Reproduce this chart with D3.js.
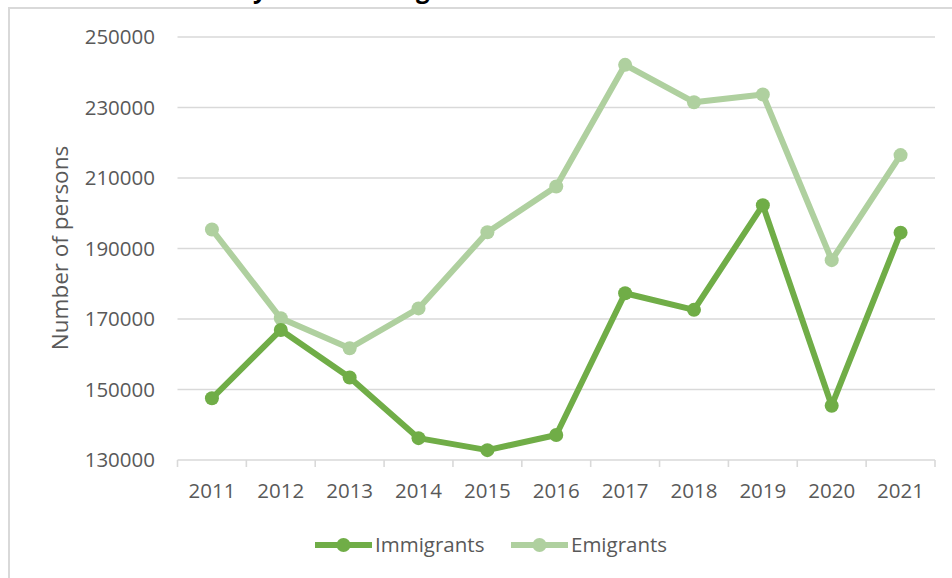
<!DOCTYPE html>
<html>
<head>
<meta charset="utf-8">
<script src="https://cdn.jsdelivr.net/npm/d3@7"></script>
<style>
  html, body { margin: 0; padding: 0; background: #fff; }
  svg { display: block; }
  text { font-family: "Open Sans", "Liberation Sans", sans-serif; }
</style>
</head>
<body>
<svg id="chart" width="952" height="578"></svg>
<script>
// Yearly migration flows
const years = ["2011", "2012", "2013", "2014", "2015", "2016", "2017", "2018", "2019", "2020", "2021"];
const immigrants = [147500, 166900, 153400, 136200, 132800, 137100, 177300, 172600, 202300, 145400, 194500];
const emigrants  = [195400, 170200, 161700, 173000, 194600, 207600, 242100, 231500, 233700, 186700, 216500];
const yTicks = [130000, 150000, 170000, 190000, 210000, 230000, 250000];
const seriesNames = ["Immigrants", "Emigrants"];
const chartTitle = "Annual Flows by Year and Region";
const yTitle = "Number of persons";

const colors = { Immigrants: "#70ad47", Emigrants: "#afd09f" };
const textColor = "#595959";
const gridColor = "#d9d9d9";

const svg = d3.select("#chart");

// outer chart frame
svg.append("rect")
  .attr("x", 9).attr("y", 8)
  .attr("width", 1000).attr("height", 620)
  .attr("fill", "#fff")
  .attr("stroke", gridColor).attr("stroke-width", 2);

// chart title, sitting above the frame
const title = svg.append("text")
  .attr("font-weight", "bold")
  .attr("font-size", 24)
  .attr("fill", "#000")
  .attr("y", 0)
  .text(chartTitle);
(function placeTitle() {
  const node = title.node();
  const iy = chartTitle.indexOf("y");
  const ig = chartTitle.lastIndexOf("g");
  const gap = node.getSubStringLength(0, ig) - node.getSubStringLength(0, iy);
  const size = 24 * 163 / gap;
  title.attr("font-size", size);
  const off = node.getSubStringLength(0, iy);
  title.attr("x", 253 - off).attr("y", -2);
})();

const x = d3.scaleBand().domain(years).range([177.5, 935]);
const y = d3.scaleLinear().domain([130000, 250000]).range([460, 37]);
const cx = d => x(d) + x.bandwidth() / 2;

// horizontal gridlines
svg.append("g")
  .selectAll("line")
  .data(yTicks.filter(v => v !== 130000))
  .join("line")
  .attr("x1", 177.5).attr("x2", 935)
  .attr("y1", d => y(d)).attr("y2", d => y(d))
  .attr("stroke", gridColor).attr("stroke-width", 1.6);

// y tick labels
svg.append("g")
  .selectAll("text")
  .data(yTicks)
  .join("text")
  .attr("x", 155)
  .attr("y", d => y(d))
  .attr("dy", "0.36em")
  .attr("text-anchor", "end")
  .attr("font-size", 20.5)
  .attr("fill", textColor)
  .text(d3.format("d"));

// x axis line with category tick marks
const xAxis = svg.append("g");
xAxis.append("line")
  .attr("x1", 177.5).attr("x2", 935)
  .attr("y1", y(130000)).attr("y2", y(130000))
  .attr("stroke", gridColor).attr("stroke-width", 1.6);
xAxis.selectAll("line.tick")
  .data(years.map(d => x(d)).concat([x.range()[1]]))
  .join("line")
  .attr("class", "tick")
  .attr("x1", d => d).attr("x2", d => d)
  .attr("y1", y(130000)).attr("y2", y(130000) + 7)
  .attr("stroke", gridColor).attr("stroke-width", 1.6);
xAxis.selectAll("text")
  .data(years)
  .join("text")
  .attr("x", d => cx(d))
  .attr("y", 491)
  .attr("dy", "0.36em")
  .attr("text-anchor", "middle")
  .attr("font-size", 20.5)
  .attr("fill", textColor)
  .text(d => d);

// y axis title
svg.append("text")
  .attr("transform", "translate(60,248) rotate(-90)")
  .attr("dy", "0.36em")
  .attr("text-anchor", "middle")
  .attr("font-size", 22.5)
  .attr("fill", textColor)
  .text(yTitle);

// series lines and markers
const series = [
  { name: "Emigrants", values: emigrants },
  { name: "Immigrants", values: immigrants }
];
const line = d3.line().x((d, i) => cx(years[i])).y(d => y(d));

series.forEach(s => {
  const g = svg.append("g");
  g.append("path")
    .datum(s.values)
    .attr("d", line)
    .attr("fill", "none")
    .attr("stroke", colors[s.name])
    .attr("stroke-width", 6)
    .attr("stroke-linejoin", "round")
    .attr("stroke-linecap", "round");
  g.selectAll("circle")
    .data(s.values)
    .join("circle")
    .attr("cx", (d, i) => cx(years[i]))
    .attr("cy", d => y(d))
    .attr("r", 7)
    .attr("fill", colors[s.name]);
});

// legend
const legendItems = [
  { name: seriesNames[0], x0: 315 },
  { name: seriesNames[1], x0: 511 }
];
const legend = svg.append("g");
legendItems.forEach(it => {
  const g = legend.append("g").attr("transform", `translate(${it.x0},545)`);
  g.append("line")
    .attr("x1", 0).attr("x2", 57)
    .attr("y1", 0).attr("y2", 0)
    .attr("stroke", colors[it.name]).attr("stroke-width", 6);
  g.append("circle")
    .attr("cx", 28.5).attr("cy", 0).attr("r", 7)
    .attr("fill", colors[it.name]);
  g.append("text")
    .attr("x", 60).attr("y", 0)
    .attr("dy", "0.36em")
    .attr("font-size", 20.5)
    .attr("fill", textColor)
    .text(it.name);
});
</script>
</body>
</html>
